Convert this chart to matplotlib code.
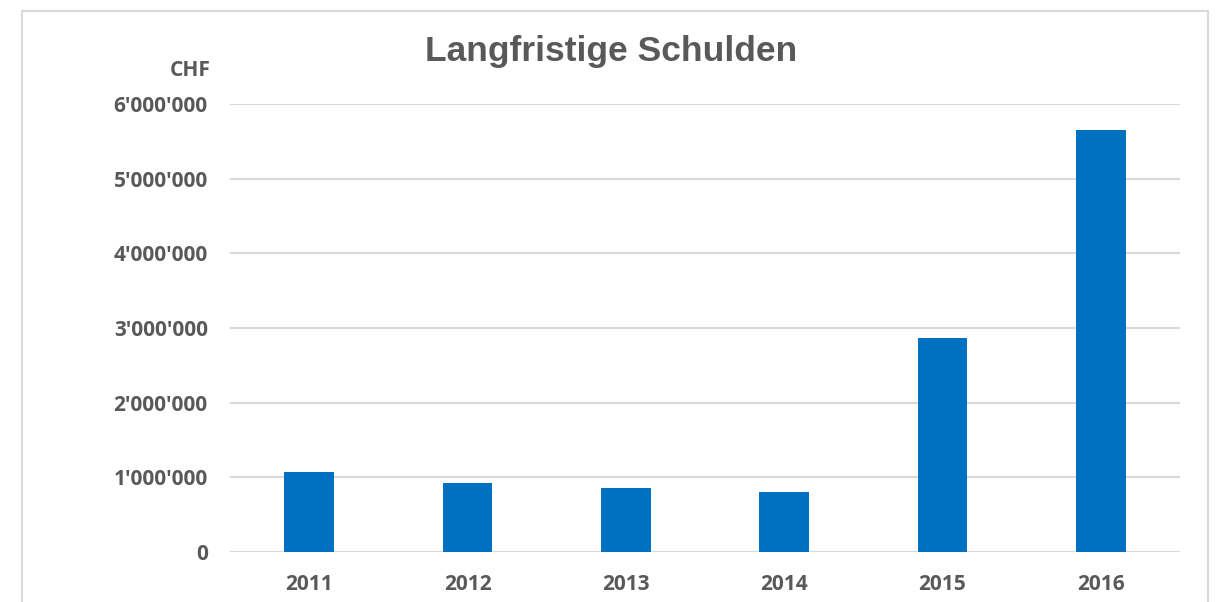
import numpy as np
import matplotlib.pyplot as plt
from matplotlib.patches import Rectangle
from matplotlib.ticker import FuncFormatter

years = ['2011', '2012', '2013', '2014', '2015', '2016']
schulden = [1076000, 920000, 853000, 799000, 2860000, 5655000]

grey = '#595959'
plt.rcParams['font.family'] = ['Open Sans', 'DejaVu Sans']

fig = plt.figure(figsize=(12.2, 6.02), dpi=100)
ax = fig.add_axes([230 / 1220, 50 / 602, 950 / 1220, 448 / 602])

x = np.arange(len(years))
ax.bar(x, schulden, width=0.314, color='#0070C0', zorder=3)

ax.set_xlim(-0.5, len(years) - 0.5)
ax.set_ylim(0, 6000000)
ax.set_yticks(np.arange(0, 6000001, 1000000))
ax.yaxis.set_major_formatter(FuncFormatter(lambda v, p: f'{int(v):,}'.replace(',', "'")))
ax.set_xticks(x, years)
ax.grid(axis='y', color='#D9D9D9', linewidth=1.5, zorder=0)
for s in ax.spines.values():
    s.set_visible(False)
ax.tick_params(length=0, colors=grey, labelsize=15)
ax.tick_params(axis='y', pad=16)
ax.tick_params(axis='x', pad=16)
for lbl in ax.get_xticklabels() + ax.get_yticklabels():
    lbl.set_fontweight('bold')

fig.text(611 / 1220, 1 - 52 / 602, 'Langfristige Schulden', ha='center', va='center',
         fontsize=25.5, fontweight='bold', color=grey, family='Liberation Sans')
fig.text(211 / 1220, 1 - 70 / 602, 'CHF', ha='right', va='center',
         fontsize=15, fontweight='bold', color=grey)

fig.patches.append(Rectangle((22 / 1220, -0.05), 1186 / 1220, 1.05 - 11 / 602,
                             transform=fig.transFigure, fill=False,
                             edgecolor='#D9D9D9', linewidth=1.5))

fig.savefig('out.png', dpi=100)
